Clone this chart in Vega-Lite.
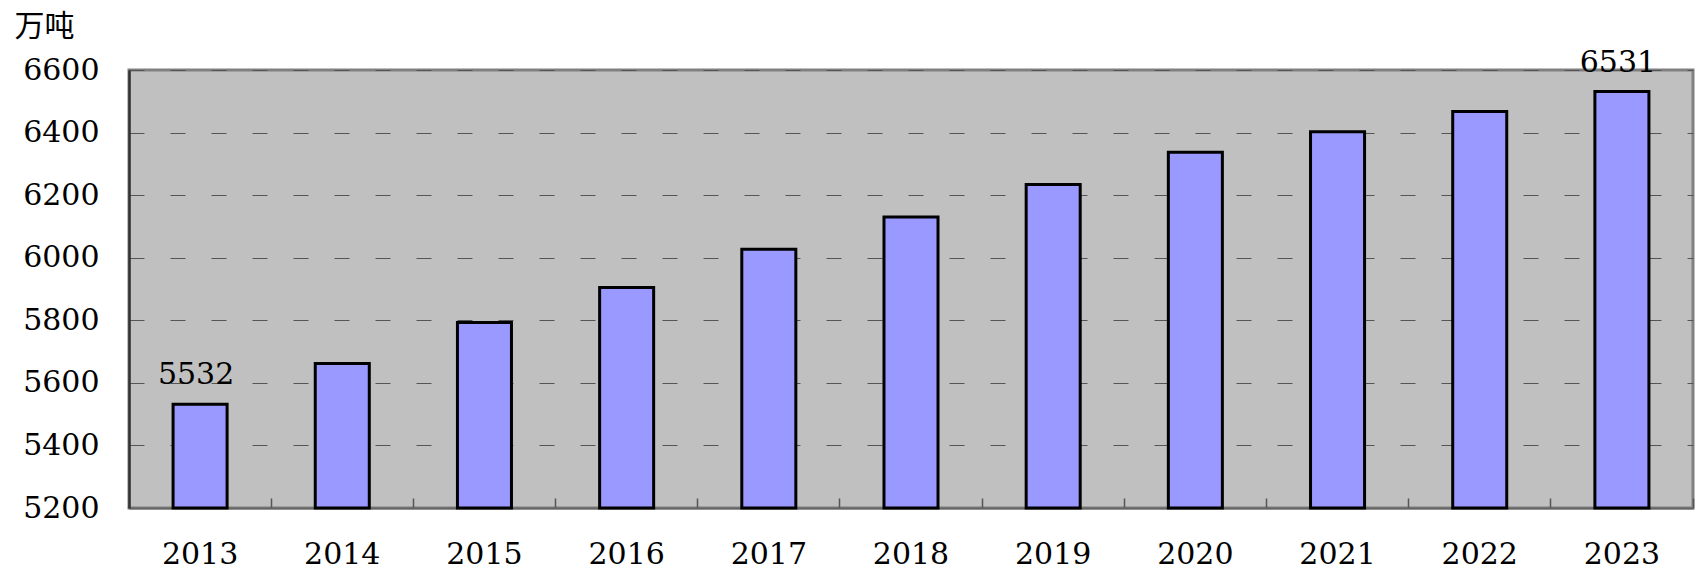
{
  "$schema": "https://vega.github.io/schema/vega-lite/v6.json",
  "width": 1564,
  "height": 438,
  "autosize": {"type": "none"},
  "padding": {"left": 129, "top": 70, "right": 8, "bottom": 62},
  "background": "#ffffff",
  "config": {
    "view": {"fill": "#C0C0C0", "stroke": "#808080", "strokeWidth": 3},
    "font": "DejaVu Serif"
  },
  "data": {
    "values": [
      {"year": "2013", "value": 5532},
      {"year": "2014", "value": 5662},
      {"year": "2015", "value": 5793},
      {"year": "2016", "value": 5905},
      {"year": "2017", "value": 6027},
      {"year": "2018", "value": 6130},
      {"year": "2019", "value": 6234},
      {"year": "2020", "value": 6337},
      {"year": "2021", "value": 6403},
      {"year": "2022", "value": 6467},
      {"year": "2023", "value": 6531}
    ]
  },
  "encoding": {
    "x": {
      "field": "year",
      "type": "ordinal",
      "scale": {"paddingInner": 0.62, "paddingOuter": 0.31},
      "axis": {
        "title": null,
        "labelAngle": 0,
        "labelFont": "DejaVu Serif",
        "labelFontSize": 30,
        "labelColor": "#000000",
        "labelBaseline": "alphabetic",
        "labelPadding": 55,
        "bandPosition": 1.8158,
        "ticks": false,
        "grid": true,
        "gridColor": "#555555",
        "gridWidth": 1.5,
        "gridDash": [0, 428, 12, 20],
        "domainColor": "#666666",
        "domainWidth": 2
      }
    },
    "y": {
      "field": "value",
      "type": "quantitative",
      "scale": {"domain": [5200, 6600], "nice": false, "zero": false},
      "axis": {
        "values": [5200, 5400, 5600, 5800, 6000, 6200, 6400, 6600],
        "format": "d",
        "title": "万吨",
        "titleFont": "Noto Sans CJK SC",
        "titleFontSize": 30,
        "titleFontWeight": "normal",
        "titleColor": "#000000",
        "titleAngle": 0,
        "titleAlign": "left",
        "titleBaseline": "alphabetic",
        "titleX": -115,
        "titleY": -35,
        "labelFont": "DejaVu Serif",
        "labelFontSize": 30,
        "labelColor": "#000000",
        "labelPadding": 30,
        "ticks": false,
        "domainColor": "#333333",
        "domainWidth": 2.5,
        "grid": true,
        "gridColor": "#555555",
        "gridWidth": 1.2,
        "gridDash": [15, 26]
      }
    }
  },
  "layer": [
    {
      "mark": {"type": "bar", "fill": "#9999FF", "stroke": "#000000", "strokeWidth": 3},
      "encoding": {"y2": {"datum": 5200}}
    },
    {
      "transform": [{"filter": "datum.year == '2013' || datum.year == '2023'"}],
      "mark": {"type": "text", "font": "DejaVu Serif", "fontSize": 30, "color": "#000000", "baseline": "alphabetic", "dy": -20, "dx": -4},
      "encoding": {"text": {"field": "value", "type": "quantitative", "format": "d"}}
    }
  ]
}
